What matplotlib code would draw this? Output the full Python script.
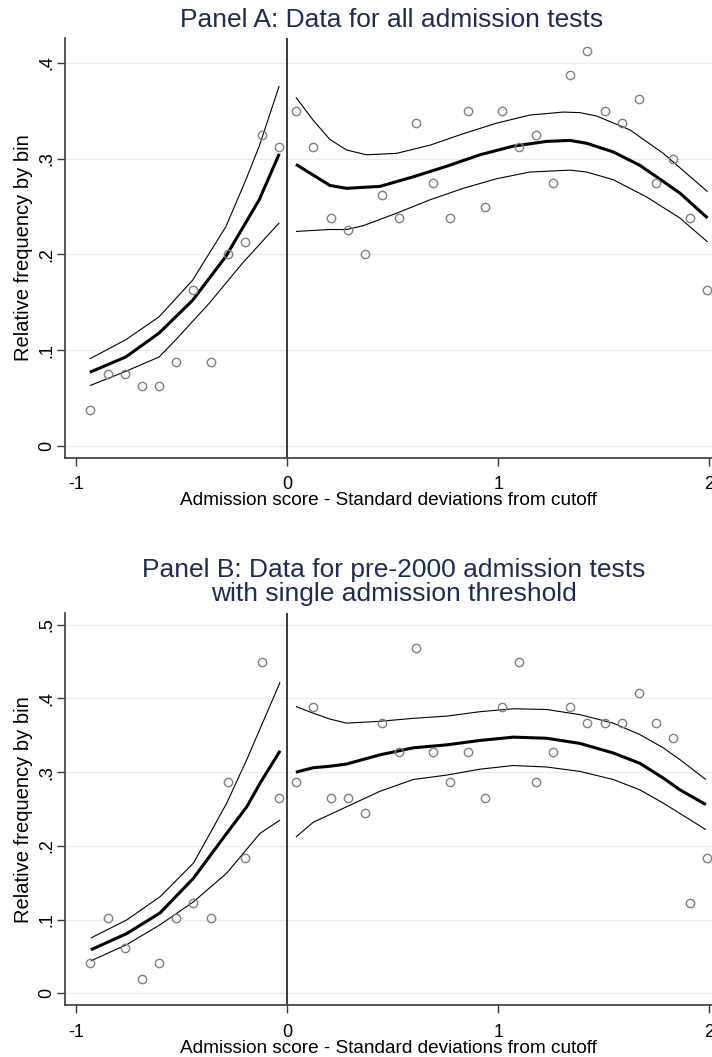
"""Relative frequency by bin around the admission cutoff, two panels."""

import matplotlib

matplotlib.use("Agg")
import matplotlib.pyplot as plt

plt.rcParams["font.family"] = ["Liberation Sans", "DejaVu Sans"]

# bin centres (standard deviations from cutoff)
BINS_LEFT = [-0.935, -0.851, -0.772, -0.690, -0.609, -0.527, -0.446, -0.364,
             -0.283, -0.203, -0.121, -0.040]
BINS_RIGHT = [0.040, 0.122, 0.205, 0.285, 0.367, 0.448, 0.528, 0.609, 0.691,
              0.772, 0.854, 0.935, 1.017, 1.097, 1.178, 1.260, 1.340, 1.421,
              1.503, 1.584, 1.664, 1.746, 1.827, 1.908, 1.988]

# Panel A: all admission tests
A_FREQ_LEFT = [0.0375, 0.075, 0.075, 0.0625, 0.0625, 0.0875, 0.1625, 0.0875,
               0.200, 0.2125, 0.325, 0.3125]
A_FREQ_RIGHT = [0.350, 0.3125, 0.2375, 0.225, 0.200, 0.2625, 0.2375, 0.3375,
                0.275, 0.2375, 0.350, 0.250, 0.350, 0.3125, 0.325, 0.275,
                0.3875, 0.4125, 0.350, 0.3375, 0.3625, 0.275, 0.300, 0.2375,
                0.1625]

A_FIT_LEFT_X = [-0.937, -0.766, -0.608, -0.450, -0.292, -0.134, -0.039]
A_FIT_LEFT = [0.077, 0.093, 0.118, 0.152, 0.198, 0.257, 0.305]
A_HI_LEFT_X = [-0.937, -0.766, -0.608, -0.450, -0.292, -0.197, -0.134, -0.039]
A_HI_LEFT = [0.091, 0.111, 0.135, 0.173, 0.229, 0.278, 0.313, 0.376]
A_LO_LEFT_X = [-0.937, -0.766, -0.608, -0.529, -0.371, -0.213, -0.039]
A_LO_LEFT = [0.063, 0.078, 0.093, 0.111, 0.149, 0.191, 0.233]

A_FIT_RIGHT_X = [0.040, 0.201, 0.280, 0.438, 0.596, 0.754, 0.912, 1.070,
                 1.228, 1.339, 1.418, 1.544, 1.670, 1.749, 1.860, 1.991]
A_FIT_RIGHT = [0.294, 0.272, 0.269, 0.271, 0.281, 0.292, 0.304, 0.313, 0.318,
               0.319, 0.316, 0.307, 0.293, 0.281, 0.264, 0.238]
A_HI_RIGHT_X = [0.040, 0.122, 0.201, 0.280, 0.375, 0.517, 0.675, 0.833, 0.991,
                1.149, 1.307, 1.386, 1.465, 1.623, 1.781, 1.991]
A_HI_RIGHT = [0.364, 0.340, 0.320, 0.309, 0.304, 0.3055, 0.314, 0.326, 0.337,
              0.3455, 0.3486, 0.348, 0.3445, 0.330, 0.3055, 0.2655]
A_LO_RIGHT_X = [0.040, 0.201, 0.280, 0.359, 0.517, 0.675, 0.833, 0.991, 1.149,
                1.339, 1.418, 1.544, 1.702, 1.860, 1.991]
A_LO_RIGHT = [0.224, 0.226, 0.226, 0.230, 0.243, 0.257, 0.269, 0.279, 0.286,
              0.288, 0.286, 0.278, 0.260, 0.238, 0.213]

# Panel B: pre-2000 tests with single admission threshold
B_FREQ_LEFT = [0.041, 0.102, 0.061, 0.020, 0.041, 0.102, 0.122, 0.102, 0.286,
               0.184, 0.449, 0.265]
B_FREQ_RIGHT = [0.286, 0.388, 0.265, 0.265, 0.245, 0.367, 0.327, 0.469, 0.327,
                0.286, 0.327, 0.265, 0.388, 0.449, 0.286, 0.327, 0.388, 0.367,
                0.367, 0.367, 0.408, 0.367, 0.347, 0.122, 0.184]

B_FIT_LEFT_X = [-0.932, -0.762, -0.604, -0.446, -0.288, -0.193, -0.130, -0.035]
B_FIT_LEFT = [0.059, 0.081, 0.109, 0.156, 0.217, 0.253, 0.285, 0.329]
B_HI_LEFT_X = [-0.932, -0.762, -0.604, -0.446, -0.367, -0.288, -0.193, -0.035]
B_HI_LEFT = [0.075, 0.0995, 0.131, 0.1765, 0.217, 0.258, 0.317, 0.422]
B_LO_LEFT_X = [-0.932, -0.762, -0.604, -0.446, -0.288, -0.130, -0.035]
B_LO_LEFT = [0.044, 0.066, 0.093, 0.124, 0.163, 0.217, 0.235]

B_FIT_RIGHT_X = [0.040, 0.122, 0.201, 0.280, 0.438, 0.596, 0.754, 0.912,
                 1.070, 1.228, 1.386, 1.544, 1.670, 1.781, 1.860, 1.983]
B_FIT_RIGHT = [0.300, 0.306, 0.308, 0.311, 0.3235, 0.333, 0.337, 0.343,
               0.3475, 0.346, 0.339, 0.326, 0.312, 0.292, 0.276, 0.256]
B_HI_RIGHT = [0.389, 0.380, 0.372, 0.3665, 0.369, 0.373, 0.376, 0.382, 0.386,
              0.385, 0.378, 0.3665, 0.351, 0.333, 0.317, 0.290]
B_LO_RIGHT_X = [0.040, 0.122, 0.280, 0.438, 0.596, 0.754, 0.912, 1.070, 1.228,
                1.386, 1.544, 1.670, 1.781, 1.860, 1.983]
B_LO_RIGHT = [0.212, 0.232, 0.253, 0.274, 0.290, 0.296, 0.304, 0.309, 0.307,
              0.301, 0.290, 0.276, 0.258, 0.244, 0.222]

A_YTICKS = [0, 0.1, 0.2, 0.3, 0.4]
A_YLABELS = ["0", ".1", ".2", ".3", ".4"]
B_YTICKS = [0, 0.1, 0.2, 0.3, 0.4, 0.5]
B_YLABELS = ["0", ".1", ".2", ".3", ".4", ".5"]
XTICKS = [-1, 0, 1, 2]

TITLE_COLOR = "#1c2c54"
AXIS_COLOR = "#3a3a3a"
GRID_COLOR = "#e6eff1"
DOT_COLOR = "#808080"
W, H = 712, 1057


def draw_panel(ax, freq_l, freq_r, fits, yticks, ylabels, ylim):
    ax.set_xlim(-1.0545, 2.012)
    ax.set_ylim(*ylim)
    for y in yticks:
        ax.axhline(y, color=GRID_COLOR, lw=1.0, zorder=0)
    ax.axvline(0, color=AXIS_COLOR, lw=1.4, zorder=1)
    for xs, ys, lw in fits:
        ax.plot(xs, ys, color="black", lw=lw, solid_capstyle="butt", zorder=2)
    for xs, ys in ((BINS_LEFT, freq_l), (BINS_RIGHT, freq_r)):
        ax.plot(xs, ys, ls="none", marker="o", ms=6, mfc="none",
                mec=DOT_COLOR, mew=1.0, zorder=3)

    ax.set_xticks(XTICKS)
    ax.set_xticklabels([str(t) for t in XTICKS])
    ax.set_yticks(yticks)
    ax.set_yticklabels(ylabels, rotation=90, va="center")
    ax.tick_params(axis="both", length=5.5, width=1.0, color=AXIS_COLOR,
                   labelsize=13)
    ax.tick_params(axis="x", pad=8)
    ax.tick_params(axis="y", pad=1.5)
    for side in ("top", "right"):
        ax.spines[side].set_visible(False)
    for side in ("left", "bottom"):
        ax.spines[side].set_color(AXIS_COLOR)
        ax.spines[side].set_linewidth(1.2)
    ax.set_xlabel("Admission score - Standard deviations from cutoff",
                  fontsize=13.7, labelpad=-1)
    ax.set_ylabel("Relative frequency by bin", fontsize=14.5, labelpad=4)


fig = plt.figure(figsize=(W / 100, H / 100), dpi=100)

ax_a = fig.add_axes([65 / W, 1 - 457.7 / H, 1 - 65 / W, (457.7 - 38.3) / H])
draw_panel(
    ax_a, A_FREQ_LEFT, A_FREQ_RIGHT,
    [(A_FIT_LEFT_X, A_FIT_LEFT, 2.2), (A_HI_LEFT_X, A_HI_LEFT, 0.8),
     (A_LO_LEFT_X, A_LO_LEFT, 0.8), (A_FIT_RIGHT_X, A_FIT_RIGHT, 2.2),
     (A_HI_RIGHT_X, A_HI_RIGHT, 0.8), (A_LO_RIGHT_X, A_LO_RIGHT, 0.8)],
    A_YTICKS, A_YLABELS, (-0.0122, 0.4256),
)

ax_b = fig.add_axes([65 / W, 1 - 1005.3 / H, 1 - 65 / W, (1005.3 - 613.3) / H])
draw_panel(
    ax_b, B_FREQ_LEFT, B_FREQ_RIGHT,
    [(B_FIT_LEFT_X, B_FIT_LEFT, 2.2), (B_HI_LEFT_X, B_HI_LEFT, 0.8),
     (B_LO_LEFT_X, B_LO_LEFT, 0.8), (B_FIT_RIGHT_X, B_FIT_RIGHT, 2.2),
     (B_FIT_RIGHT_X, B_HI_RIGHT, 0.8), (B_LO_RIGHT_X, B_LO_RIGHT, 0.8)],
    B_YTICKS, B_YLABELS, (-0.0163, 0.5155),
)

fig.text(392 / W, 1 - 20 / H, "Panel A: Data for all admission tests",
         ha="center", va="center", fontsize=19, color=TITLE_COLOR)
fig.text(394 / W, 1 - 582 / H,
         "Panel B: Data for pre-2000 admission tests\nwith single admission threshold",
         ha="center", va="center", fontsize=19, color=TITLE_COLOR,
         linespacing=1.05)

fig.savefig("out.png", dpi=100)
